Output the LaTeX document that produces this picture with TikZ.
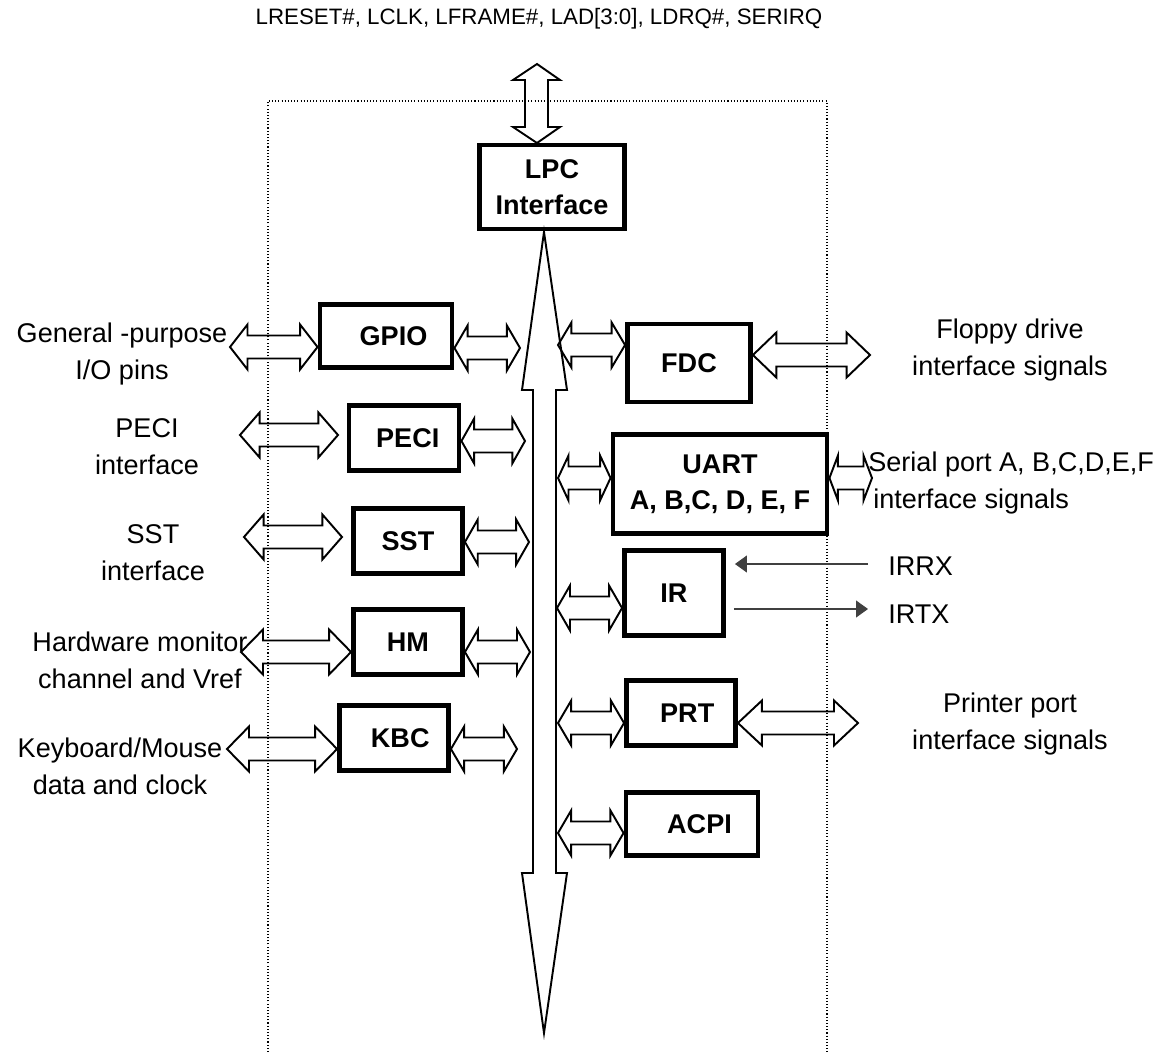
\documentclass[tikz,border=0pt]{standalone}
\usepackage{fontspec}
\setmainfont{Liberation Sans}
\usetikzlibrary{calc,arrows.meta}
\tikzset {>=Stealth,
  blk/.style={draw, line width=2.8pt, font=\fontsize{15.4}{20.5}\selectfont\bfseries,
    align=center, inner sep=0pt},
  fat/.style={line width=1.1pt, line join=miter},
  lbl/.style={align=center, inner sep=0pt},
  sig/.style={line width=0.6pt, black!75, -{Triangle[length=0.24cm,width=0.34cm]}}}

% hollow double arrow: #1 = y, #2 = left end, #3 = right end
\newcommand\fatarrow[3]{%
  \draw[fat] let \p1=#2, \p2=#3, \p3=(0,#1), \n1={0.2*(\x2-\x1)} in
    (\x1,\y3) -- (\x1+\n1,\y3+0.45cm) -- (\x1+\n1,\y3+0.23cm) --
    (\x2-\n1,\y3+0.23cm) -- (\x2-\n1,\y3+0.45cm) -- (\x2,\y3) --
    (\x2-\n1,\y3-0.45cm) -- (\x2-\n1,\y3-0.23cm) --
    (\x1+\n1,\y3-0.23cm) -- (\x1+\n1,\y3-0.45cm) -- cycle;}

\begin{document}
\begin{tikzpicture}[x=0.02cm,y=-0.02cm,font=\fontsize{15.4}{21}\selectfont]
\useasboundingbox (0,0) rectangle (1171,1055);

\draw [line width=0.6pt, dash pattern=on 0.6pt off 1.2pt]
  (268,1052) -- (268,101) -- (827,101) -- (827,1052);

\node[lbl, font=\fontsize{12.7}{15}\selectfont] (pins) at (539,19)
  {LRESET\#, LCLK, LFRAME\#, LAD[3:0], LDRQ\#, SERIRQ};

\node[blk, minimum width=2.90cm, minimum height=1.68cm] (lpc) at (552,187) {LPC\\Interface};
\node[blk, minimum width=2.64cm, minimum height=1.26cm] (gpio) at (386,336) {\hspace{0.3cm}GPIO};
\node[blk, minimum width=2.20cm, minimum height=1.30cm] (peci) at (404,438) {\hspace{0.15cm}PECI};
\node[blk, minimum width=2.18cm, minimum height=1.30cm] (sst) at (408,541) {SST};
\node[blk, minimum width=2.18cm, minimum height=1.30cm] (hm) at (408,642) {HM};
\node[blk, minimum width=2.18cm, minimum height=1.30cm] (kbc) at (394,738) {\hspace{0.25cm}KBC};
\node[blk, minimum width=2.46cm, minimum height=1.56cm] (fdc) at (689,363) {FDC};
\node[blk, minimum width=4.28cm, minimum height=1.98cm] (uart) at (720,484) {UART\\A, B,C, D, E, F};
\node[blk, minimum width=1.98cm, minimum height=1.70cm] (ir) at (674,593) {IR};
\node[blk, minimum width=2.18cm, minimum height=1.30cm] (prt) at (681,713) {\hspace{0.25cm}PRT};
\node[blk, minimum width=2.64cm, minimum height=1.26cm] (acpi) at (692,824) {\hspace{0.3cm}ACPI};

\node[lbl] (gpiotxt) at (122,354) {General -purpose\\I/O pins};
\node[lbl] (pecitxt) at (147,447) {PECI\\interface};
\node[lbl] (ssttxt) at (153,553) {SST\\interface};
\node[lbl] (hmtxt) at (140,660) {Hardware monitor\\channel and Vref};
\node[lbl] (kbctxt) at (120,766) {Keyboard/Mouse\\data and clock};
\node[lbl] (fdctxt) at (1010,350) {Floppy drive\\interface signals};
\node[lbl, align=left, anchor=west] (uarttxt) at (868,483)
  {Serial port A, B,C,D,E,F\\\hspace{0.1cm}interface signals};
\node[lbl, anchor=west] (irrx) at (888,566) {IRRX};
\node[lbl, anchor=west] (irtx) at (888,614) {IRTX};
\node[lbl] (prttxt) at (1010,724) {Printer port\\interface signals};

% LPC bus
\draw[fat] (537,64) -- (560,80) -- (548,80) -- (548,127) -- (560,127) -- (537,143) --
  (513,127) -- (525,127) -- (525,80) -- (513,80) -- cycle;
\draw[fat] (544,232) -- (567,390) -- (556,390) -- (556,873) -- (567,873) -- (544,1033) --
  (522,873) -- (533,873) -- (533,390) -- (522,390) -- cycle;

\fatarrow{347}{(230,0)}{(gpio.west)}
\fatarrow{348}{(gpio.east)}{(520,0)}
\fatarrow{435}{(240,0)}{(338,0)}
\fatarrow{441}{(peci.east)}{(525,0)}
\fatarrow{537}{(244,0)}{(342,0)}
\fatarrow{542}{(sst.east)}{(529,0)}
\fatarrow{652}{(241,0)}{(hm.west)}
\fatarrow{652}{(hm.east)}{(530,0)}
\fatarrow{749}{(227,0)}{(kbc.west)}
\fatarrow{749}{(kbc.east)}{(517,0)}
\fatarrow{345}{(558,0)}{(fdc.west)}
\fatarrow{355}{(fdc.east)}{(870,0)}
\fatarrow{478}{(558,0)}{(uart.west)}
\fatarrow{478}{(uart.east)}{(872,0)}
\fatarrow{608}{(557,0)}{(ir.west)}
\fatarrow{723}{(558,0)}{(prt.west)}
\fatarrow{723}{(prt.east)}{(858,0)}
\fatarrow{833}{(558,0)}{(acpi.west)}

\draw[sig] ($(irrx.west)+(-20,-2)$) -- ($(ir.east |- irrx.west)+(9,-2)$);
\draw[sig] ($(ir.east |- irtx.west)+(8,-5)$) -- ($(irtx.west)+(-20,-5)$);

\end{tikzpicture}
\end{document}
